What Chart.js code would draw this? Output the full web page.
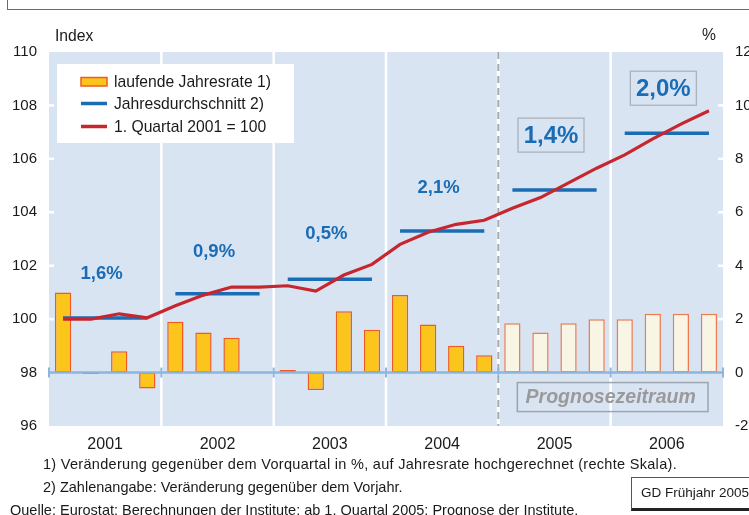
<!DOCTYPE html>
<html>
<head>
<meta charset="utf-8">
<script src="https://cdn.jsdelivr.net/npm/chart.js@4/dist/chart.umd.min.js"></script>
<style>
html,body{margin:0;padding:0;background:#fff;}
#wrap{position:relative;width:749px;height:515px;overflow:hidden;font-family:"Liberation Sans",Arial,sans-serif;color:#1a1a1a;}
#c{position:absolute;left:0;top:0;}
.note{position:absolute;font-size:14.5px;white-space:nowrap;line-height:15px;}
#topbox{position:absolute;left:7px;top:-20px;width:780px;height:28px;border:1.5px solid #6a6a6a;}
#gd{position:absolute;left:631px;top:477px;width:140px;height:34px;border:1px solid #555;border-bottom:3px solid #222;box-sizing:border-box;font-size:13.5px;line-height:30px;padding-left:9px;background:#fff;white-space:nowrap;}
</style>
</head>
<body>
<div id="wrap">
<div id="topbox"></div>
<canvas id="c" width="749" height="515"></canvas>
<div class="note" style="left:43px;top:457px;letter-spacing:0.3px;">1) Veränderung gegenüber dem Vorquartal in %, auf Jahresrate hochgerechnet (rechte Skala).</div>
<div class="note" style="left:43px;top:480px;">2) Zahlenangabe: Veränderung gegenüber dem Vorjahr.</div>
<div class="note" style="left:10px;top:503px;">Quelle: Eurostat; Berechnungen der Institute; ab 1. Quartal 2005: Prognose der Institute.</div>
<div id="gd">GD Frühjahr 2005</div>
</div>
<script>
// ---------- data ----------
const quarters = ['2001 Q1','2001 Q2','2001 Q3','2001 Q4','2002 Q1','2002 Q2','2002 Q3','2002 Q4',
                  '2003 Q1','2003 Q2','2003 Q3','2003 Q4','2004 Q1','2004 Q2','2004 Q3','2004 Q4',
                  '2005 Q1','2005 Q2','2005 Q3','2005 Q4','2006 Q1','2006 Q2','2006 Q3','2006 Q4'];
const years = ['2001','2002','2003','2004','2005','2006'];
// laufende Jahresrate (right scale, %)
const annualRate = [3.0, -0.05, 0.8, -0.6, 1.9, 1.5, 1.3, 0.0,
                    0.1, -0.65, 2.3, 1.6, 2.9, 1.8, 1.0, 0.65,
                    1.85, 1.5, 1.85, 2.0, 2.0, 2.2, 2.2, 2.2];
// 1. Quartal 2001 = 100 (left scale)
const indexLevel = [100.0, 100.0, 100.2, 100.05, 100.5, 100.9, 101.2, 101.2,
                    101.25, 101.05, 101.65, 102.05, 102.8, 103.25, 103.55, 103.7,
                    104.15, 104.55, 105.1, 105.65, 106.15, 106.75, 107.3, 107.8];
// Jahresdurchschnitt (left scale)
const yearAverage = [100.04, 100.95, 101.49, 103.3, 104.83, 106.96];
const yearChange = ['1,6%','0,9%','0,5%','2,1%','1,4%','2,0%'];
const forecastStartIndex = 16;
const leftTicks = [96, 98, 100, 102, 104, 106, 108, 110];
const rightTicks = [-2, 0, 2, 4, 6, 8, 10, 12];

// ---------- styles ----------
const FONT = '"Liberation Sans", Arial, sans-serif';
const BG = '#d9e4f3';
const BLUE = '#1a6db4';
const RED = '#c8262e';
const BAR_FILL = '#fcc51c', BAR_BORDER = '#ef5a24';
const FC_FILL = '#f8f5e4', FC_BORDER = '#f07a50';

const avgSeries = quarters.map((q, i) => yearAverage[Math.floor(i / 4)]);

function yearBoundaries(chart) {
  const x = chart.scales.x, a = chart.chartArea;
  const b = [a.left];
  for (let y = 1; y < years.length; y++) {
    b.push((x.getPixelForValue(4 * y - 1) + x.getPixelForValue(4 * y)) / 2);
  }
  b.push(a.right);
  return b;
}

const decor = {
  id: 'decor',
  beforeDatasetsDraw(chart) {
    const c = chart.ctx, a = chart.chartArea;
    c.save();
    c.fillStyle = BG;
    c.fillRect(a.left, a.top, a.right - a.left, a.bottom - a.top);
    const b = yearBoundaries(chart);
    // separators
    for (let i = 1; i < b.length - 1; i++) {
      c.beginPath();
      if (i === forecastStartIndex / 4) {
        c.strokeStyle = '#ffffff'; c.lineWidth = 3; c.setLineDash([]);
        c.moveTo(b[i], a.top); c.lineTo(b[i], a.bottom); c.stroke();
        c.beginPath();
        c.strokeStyle = '#a8a8a8'; c.lineWidth = 2; c.setLineDash([7, 5]);
      } else {
        c.strokeStyle = '#ffffff'; c.lineWidth = 2.5; c.setLineDash([]);
      }
      c.moveTo(b[i], a.top); c.lineTo(b[i], a.bottom); c.stroke();
    }
    c.setLineDash([]);
    // small white edge ticks
    const yL = chart.scales.yL;
    c.strokeStyle = '#ffffff'; c.lineWidth = 2.5;
    leftTicks.forEach(v => {
      if (v <= 98 || v >= 110) return;
      const y = yL.getPixelForValue(v);
      c.beginPath(); c.moveTo(a.left, y); c.lineTo(a.left + 5, y); c.stroke();
      c.beginPath(); c.moveTo(a.right - 5, y); c.lineTo(a.right, y); c.stroke();
    });
    // legend box
    c.fillStyle = '#ffffff';
    c.fillRect(57, 64, 237, 79);
    c.fillStyle = BAR_FILL; c.strokeStyle = BAR_BORDER; c.lineWidth = 1.5;
    c.fillRect(81, 77.5, 26, 8.5); c.strokeRect(81, 77.5, 26, 8.5);
    c.lineWidth = 3.5;
    c.strokeStyle = BLUE; c.beginPath(); c.moveTo(81, 103.5); c.lineTo(107, 103.5); c.stroke();
    c.strokeStyle = RED; c.beginPath(); c.moveTo(81, 126.5); c.lineTo(107, 126.5); c.stroke();
    c.fillStyle = '#1a1a1a'; c.font = '15.7px ' + FONT; c.textBaseline = 'middle'; c.textAlign = 'left';
    chart.data.datasets.forEach((d, i) => c.fillText(d.label, 114, 82.5 + i * 22.5));
    c.restore();
  },
  afterDatasetsDraw(chart) {
    const c = chart.ctx, a = chart.chartArea;
    const b = yearBoundaries(chart);
    const yR = chart.scales.yR, yL = chart.scales.yL;
    c.save();
    // zero baseline with ticks
    const y0 = yR.getPixelForValue(0);
    c.strokeStyle = '#8db6df'; c.lineWidth = 2.5;
    c.beginPath(); c.moveTo(a.left, y0); c.lineTo(a.right, y0); c.stroke();
    c.lineWidth = 2;
    b.forEach(x => { c.beginPath(); c.moveTo(x, y0 - 5); c.lineTo(x, y0 + 5); c.stroke(); });
    // year change labels
    const offsets = [45, 43, 46, 44, 55, 45];
    const boxed = [false, false, false, false, true, true];
    c.textAlign = 'center'; c.textBaseline = 'middle';
    yearChange.forEach((t, i) => {
      const cx = (b[i] + b[i + 1]) / 2 - 3.5;
      const cy = yL.getPixelForValue(yearAverage[i]) - offsets[i];
      if (boxed[i]) {
        c.font = 'bold 24px ' + FONT;
        c.strokeStyle = '#a9aeb4'; c.lineWidth = 1.2;
        c.strokeRect(cx - 33, cy - 17, 66, 34);
      } else {
        c.font = 'bold 18.5px ' + FONT;
      }
      c.fillStyle = BLUE;
      c.fillText(t, cx, cy + 1);
    });
    // Prognosezeitraum box
    const bx = b[forecastStartIndex / 4] + 19, by = y0 + 10;
    c.strokeStyle = '#9ca5ae'; c.lineWidth = 1.5;
    c.strokeRect(bx, by, a.right - 15 - bx, 29);
    c.fillStyle = '#9a9a9a'; c.font = 'italic bold 19.5px ' + FONT;
    c.fillText('Prognosezeitraum', (bx + a.right - 15) / 2 - 2, by + 15);
    c.restore();
  },
  afterDraw(chart) {
    const c = chart.ctx;
    c.save();
    c.fillStyle = '#1a1a1a'; c.font = '15.7px ' + FONT; c.textBaseline = 'middle';
    c.textAlign = 'left'; c.fillText('Index', 55, 37);
    c.textAlign = 'right'; c.fillText('%', 716, 36);
    c.restore();
  }
};

new Chart(document.getElementById('c'), {
  data: {
    labels: quarters,
    datasets: [
      {
        type: 'bar', label: 'laufende Jahresrate 1)', data: annualRate,
        xAxisID: 'x', yAxisID: 'yR',
        backgroundColor: ctx => ctx.dataIndex >= forecastStartIndex ? FC_FILL : BAR_FILL,
        borderColor: ctx => ctx.dataIndex >= forecastStartIndex ? FC_BORDER : BAR_BORDER,
        borderWidth: 1.5, borderSkipped: false,
        barPercentage: 0.58, categoryPercentage: 1, order: 3
      },
      {
        type: 'line', label: 'Jahresdurchschnitt 2)', data: avgSeries,
        xAxisID: 'x', yAxisID: 'yL',
        borderColor: BLUE, borderWidth: 3.5, pointRadius: 0, tension: 0, borderCapStyle: 'butt',
        segment: { borderColor: s => (s.p1DataIndex % 4 === 0) ? 'rgba(0,0,0,0)' : BLUE },
        order: 2
      },
      {
        type: 'line', label: '1. Quartal 2001 = 100', data: indexLevel,
        xAxisID: 'x', yAxisID: 'yL',
        borderColor: RED, borderWidth: 3.2, pointRadius: 0, tension: 0,
        order: 1
      }
    ]
  },
  options: {
    responsive: false, animation: false, devicePixelRatio: 1,
    layout: { padding: { top: 52, left: 0, right: 0, bottom: 0 } },
    plugins: { legend: { display: false }, tooltip: { enabled: false } },
    scales: {
      x: { type: 'category', display: false, offset: true, grid: { display: false } },
      xYear: {
        type: 'category', labels: years, position: 'bottom', offset: true,
        grid: { display: false, drawTicks: false }, border: { display: false },
        ticks: { font: { size: 16, family: FONT }, color: '#1a1a1a', padding: 9, maxRotation: 0, autoSkip: false },
        afterFit: s => { s.height = 89; }
      },
      yL: {
        position: 'left', min: 96, max: 110,
        afterBuildTicks: s => { s.ticks = leftTicks.map(v => ({ value: v })); },
        ticks: { font: { size: 15, family: FONT }, color: '#1a1a1a', padding: 12 },
        grid: { display: false, drawTicks: false }, border: { display: false },
        afterFit: s => { s.width = 49; }
      },
      yR: {
        position: 'right', min: -2, max: 12,
        afterBuildTicks: s => { s.ticks = rightTicks.map(v => ({ value: v })); },
        ticks: { font: { size: 15, family: FONT }, color: '#1a1a1a', padding: 12 },
        grid: { display: false, drawTicks: false }, border: { display: false },
        afterFit: s => { s.width = 26; }
      }
    }
  },
  plugins: [decor]
});
</script>
</body>
</html>
